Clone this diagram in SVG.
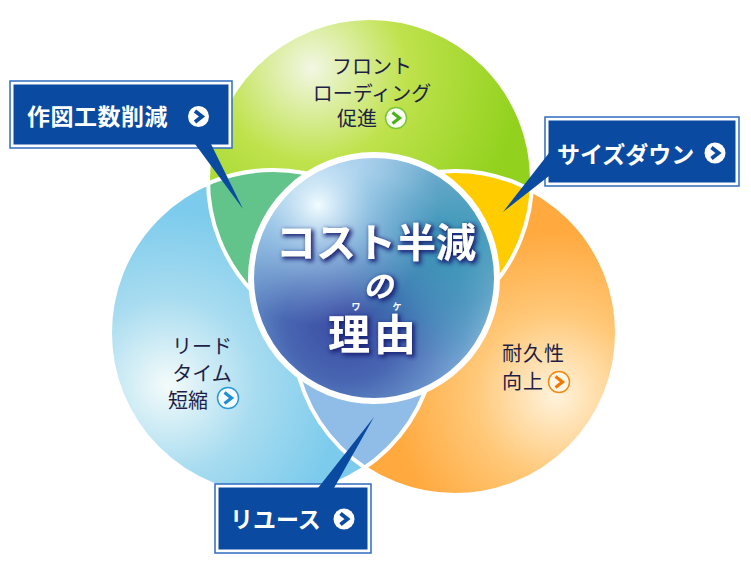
<svg xmlns="http://www.w3.org/2000/svg" width="751" height="569" viewBox="0 0 751 569">
<defs>
<style>
.lbl{font-family:"Noto Sans CJK JP","Noto Sans",sans-serif;font-size:20px;fill:#1e1e46;font-weight:400}
.btn{font-family:"Noto Sans CJK JP","Noto Sans",sans-serif;font-size:23px;fill:#fff;font-weight:700}
.ctr{font-family:"Noto Sans CJK JP","Noto Sans",sans-serif;fill:#fff;font-weight:700}
.boxo{fill:#fff;stroke:#2f6cc0;stroke-width:1.5}
.boxi{fill:#0a4aa0}
.ptr{fill:#0a4aa0}
.wline{fill:none;stroke:#fff;stroke-width:4}
</style>
<radialGradient id="gG" gradientUnits="userSpaceOnUse" cx="312" cy="68" r="210">
<stop offset="0" stop-color="#f2f7e4"/><stop offset="0.45" stop-color="#bfe24c"/><stop offset="1" stop-color="#92d21e"/>
</radialGradient>
<radialGradient id="gB" gradientUnits="userSpaceOnUse" cx="168" cy="385" r="175">
<stop offset="0" stop-color="#f4fbfa"/><stop offset="0.5" stop-color="#a8dcf0"/><stop offset="1" stop-color="#7ccbec"/>
</radialGradient>
<radialGradient id="gO" gradientUnits="userSpaceOnUse" cx="556" cy="395" r="165">
<stop offset="0" stop-color="#fff3dc"/><stop offset="0.5" stop-color="#ffc878"/><stop offset="1" stop-color="#ffa93e"/>
</radialGradient>
<radialGradient id="gC0" gradientUnits="userSpaceOnUse" cx="345" cy="322" r="150">
<stop offset="0" stop-color="#3b4aa2"/><stop offset="0.4" stop-color="#4866b2"/><stop offset="0.8" stop-color="#74a2d2"/><stop offset="1" stop-color="#a8c8e8"/>
</radialGradient>
<radialGradient id="gC1" gradientUnits="userSpaceOnUse" cx="458" cy="240" r="125">
<stop offset="0" stop-color="#2c92b0" stop-opacity="0.9"/><stop offset="0.5" stop-color="#3590b4" stop-opacity="0.6"/><stop offset="1" stop-color="#2c92b0" stop-opacity="0"/>
</radialGradient>
<radialGradient id="gC2" gradientUnits="userSpaceOnUse" cx="318" cy="205" r="120">
<stop offset="0" stop-color="#f2fcff" stop-opacity="1"/><stop offset="0.45" stop-color="#b0daf2" stop-opacity="0.6"/><stop offset="1" stop-color="#9ccbe8" stop-opacity="0"/>
</radialGradient>
<clipPath id="cG"><circle cx="370" cy="180" r="162"/></clipPath>
<clipPath id="cB"><circle cx="273" cy="333" r="163"/></clipPath>
<filter id="glow" x="-20%" y="-30%" width="140%" height="160%">
<feMorphology in="SourceAlpha" operator="dilate" radius="1" result="d"/>
<feGaussianBlur in="d" stdDeviation="2.2" result="b"/>
<feOffset in="b" dx="2" dy="2" result="o"/>
<feFlood flood-color="#1a2478" flood-opacity="0.95"/>
<feComposite in2="o" operator="in" result="s"/>
<feMerge><feMergeNode in="s"/><feMergeNode in="SourceGraphic"/></feMerge>
</filter>
<g id="bicon"><circle r="10.5" fill="#fff"/><path d="M-3.5 -5.5 L3.5 0 L-3.5 5.5" fill="none" stroke="#0a4aa0" stroke-width="3.8"/></g>
</defs>
<rect width="751" height="569" fill="#fff"/>

<g id="venn">
<circle id="green" cx="370" cy="180" r="162" fill="url(#gG)"/>
<circle id="blue" cx="273" cy="333" r="163" fill="url(#gB)"/>
<circle id="orange" cx="455" cy="333" r="162" fill="url(#gO)"/>
<circle cx="273" cy="333" r="163" fill="#63c48b" clip-path="url(#cG)"/>
<circle cx="455" cy="333" r="162" fill="#ffcc00" clip-path="url(#cG)"/>
<circle cx="455" cy="333" r="162" fill="#90bce8" clip-path="url(#cB)"/>
<circle class="wline" cx="370" cy="180" r="162"/>
<circle class="wline" cx="273" cy="333" r="163"/>
<circle class="wline" cx="455" cy="333" r="162"/>
</g>

<g id="center">
<circle cx="374" cy="278" r="123" fill="url(#gC0)"/>
<circle cx="374" cy="278" r="123" fill="url(#gC1)"/>
<circle cx="374" cy="278" r="123" fill="url(#gC2)"/>
<circle cx="374" cy="278" r="123" fill="none" stroke="#fff" stroke-width="6"/>
<g filter="url(#glow)">
<text class="ctr" x="376" y="257" font-size="40" text-anchor="middle">コスト半減</text>
<text class="ctr" x="378" y="297" font-size="30" font-style="italic" font-weight="400" text-anchor="middle">の</text>
<text class="ctr" x="374" y="350" font-size="42" letter-spacing="4" text-anchor="middle">理由</text>
</g>
<text class="ctr" x="356" y="310" font-size="9" font-weight="400" text-anchor="middle">ワ</text>
<text class="ctr" x="397" y="310" font-size="9" font-weight="400" text-anchor="middle">ケ</text>
</g>

<g id="node-front">
<text class="lbl" x="372" y="74" text-anchor="middle">フロント</text>
<text class="lbl" x="372" y="101" text-anchor="middle">ローディング</text>
<text class="lbl" x="337" y="126">促進</text>
<circle cx="396" cy="118" r="10.5" fill="#fbfff4" stroke="#78c832" stroke-width="1.5"/>
<path d="M392.5 112.5 L399.5 118 L392.5 123.5" fill="none" stroke="#4cb018" stroke-width="3.2"/>
</g>

<g id="node-lead">
<text class="lbl" x="202" y="354" text-anchor="middle">リード</text>
<text class="lbl" x="202" y="381" text-anchor="middle">タイム</text>
<text class="lbl" x="168" y="408">短縮</text>
<circle cx="228" cy="398" r="10.5" fill="#f4fbff" stroke="#2a9ad8" stroke-width="1.5"/>
<path d="M224.5 392.5 L231.5 398 L224.5 403.5" fill="none" stroke="#1e8ed6" stroke-width="3.2"/>
</g>

<g id="node-durable">
<text class="lbl" x="502" y="361" letter-spacing="1">耐久性</text>
<text class="lbl" x="502" y="389" letter-spacing="1">向上</text>
<circle cx="559" cy="382" r="10.5" fill="#fff6e8" stroke="#f08a10" stroke-width="1.5"/>
<path d="M555.5 376.5 L562.5 382 L555.5 387.5" fill="none" stroke="#f07800" stroke-width="3.2"/>
</g>

<g id="callout-sakuzu">
<rect class="boxo" x="10" y="81" width="222" height="67"/>
<rect class="boxi" x="13.5" y="84.5" width="215" height="60"/>
<text class="btn" x="27" y="125" font-size="24" letter-spacing="0.5">作図工数削減</text>
<use href="#bicon" x="198.5" y="116.5"/>
</g>
<g id="callout-size">
<rect class="boxo" x="545" y="117" width="194" height="69"/>
<rect class="boxi" x="548.5" y="120.5" width="187" height="62"/>
<text class="btn" x="557" y="163">サイズダウン</text>
<use href="#bicon" x="715" y="153"/>
</g>
<g id="callout-reuse">
<rect class="boxo" x="215" y="484" width="156" height="69"/>
<rect class="boxi" x="218.5" y="487.5" width="149" height="62"/>
<text class="btn" x="230" y="528">リユース</text>
<use href="#bicon" x="344" y="519"/>
</g>

<g id="connectors">
<polygon class="ptr" points="195,144 211,144 243,209"/>
<polygon class="ptr" points="549,153 549,176 503,212"/>
<polygon class="ptr" points="318,488 334,488 374,417"/>
</g>
</svg>
